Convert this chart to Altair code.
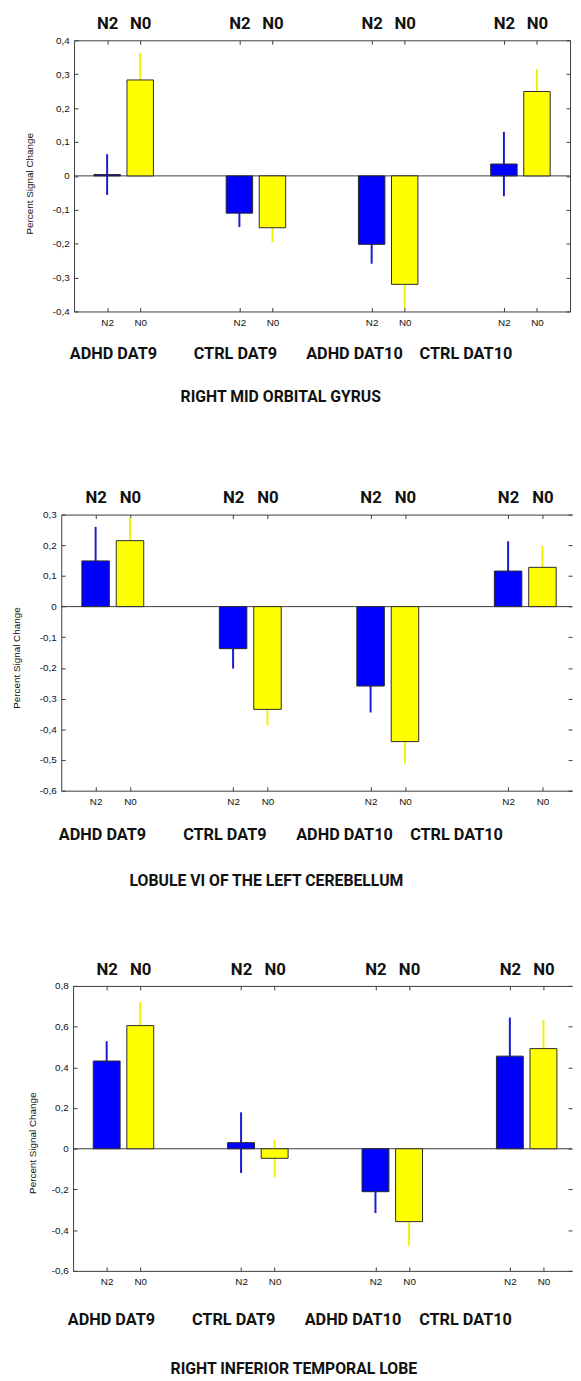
import altair as alt
import pandas as pd

# ---------------- data ----------------
groups = ["ADHD DAT9", "CTRL DAT9", "ADHD DAT10", "CTRL DAT10"]
conditions = ["N2", "N0"]
y_axis_title = "Percent Signal Change"
panel_titles = [
    "RIGHT MID ORBITAL GYRUS",
    "LOBULE VI OF THE LEFT CEREBELLUM",
    "RIGHT INFERIOR TEMPORAL LOBE",
]

# panel 1: right mid orbital gyrus
p1_n2 = [0.004, -0.110, -0.202, 0.035]
p1_n2_err = [0.060, 0.041, 0.057, 0.095]
p1_n0 = [0.283, -0.153, -0.320, 0.249]
p1_n0_err = [0.080, 0.042, 0.070, 0.065]
p1_y_ticks = [-0.4, -0.3, -0.2, -0.1, 0.0, 0.1, 0.2, 0.3, 0.4]

# panel 2: lobule VI of the left cerebellum
p2_n2 = [0.149, -0.137, -0.259, 0.116]
p2_n2_err = [0.111, 0.065, 0.086, 0.097]
p2_n0 = [0.215, -0.335, -0.440, 0.128]
p2_n0_err = [0.075, 0.053, 0.071, 0.070]
p2_y_ticks = [-0.6, -0.5, -0.4, -0.3, -0.2, -0.1, 0.0, 0.1, 0.2, 0.3]

# panel 3: right inferior temporal lobe
p3_n2 = [0.431, 0.030, -0.211, 0.455]
p3_n2_err = [0.097, 0.149, 0.105, 0.190]
p3_n0 = [0.605, -0.047, -0.358, 0.492]
p3_n0_err = [0.116, 0.092, 0.119, 0.140]
p3_y_ticks = [-0.6, -0.4, -0.2, 0.0, 0.2, 0.4, 0.6, 0.8]

# ---------------- layout / style ----------------
group_slots = [1, 5, 9, 13]       # x slot of the N2 bar of each group; N0 is next slot
BAR_HALF = 0.4
BLUE, YELLOW = "#0000ff", "#ffff00"
RULE_BLUE, RULE_YELLOW = "#1a1ad0", "#f2f200"
EDGE = "#2a2a2a"
FRAME = "#3c3c3c"
TEXT = "#111111"
BOLD_FONT = "Roboto"
SMALL_FONT = "Liberation Sans"

layouts = [
    dict(height=275, width=516, x_max=15.0, x_start=13, right_domain=True, top_extent=30,
         ytitle_x=-45, ytitle_y=145, label_x=[1.19, 4.88, 8.48, 11.85], label_dy=43,
         title_x=6.25, title_dy=87, y_domain=[-0.4, 0.4]),
    dict(height=280, width=518, x_max=14.86, x_start=0, right_domain=False, top_extent=47,
         ytitle_x=-45, ytitle_y=145, label_x=[1.2, 4.76, 8.24, 11.5], label_dy=45,
         title_x=5.97, title_dy=92, y_domain=[-0.6, 0.3]),
    dict(height=289, width=518, x_max=14.85, x_start=12, right_domain=False, top_extent=34,
         ytitle_x=-41, ytitle_y=159, label_x=[1.14, 4.78, 8.33, 11.68], label_dy=50,
         title_x=6.57, title_dy=100, y_domain=[-0.6, 0.8]),
]

series = [
    (p1_n2, p1_n2_err, p1_n0, p1_n0_err, p1_y_ticks),
    (p2_n2, p2_n2_err, p2_n0, p2_n0_err, p2_y_ticks),
    (p3_n2, p3_n2_err, p3_n0, p3_n0_err, p3_y_ticks),
]

X_LABEL_EXPR = f"datum.value % 4 == 1 ? '{conditions[0]}' : '{conditions[1]}'"
Y_LABEL_EXPR = "(datum.value < -1e-9 ? '-' : '') + replace(format(abs(datum.value), '.1~f'), '.', ',')"


def make_panel(idx):
    n2, n2e, n0, n0e, y_ticks = series[idx]
    L = layouts[idx]
    rows = []
    for i, g in enumerate(groups):
        rows.append(dict(group=g, cond=conditions[0], pos=group_slots[i], value=n2[i], err=n2e[i]))
        rows.append(dict(group=g, cond=conditions[1], pos=group_slots[i] + 1, value=n0[i], err=n0e[i]))
    df = pd.DataFrame(rows)
    H, W = L["height"], L["width"]
    tick_pos = sorted(df["pos"].tolist())

    xs = alt.Scale(domain=[0, L["x_max"]], range=[L["x_start"], W], nice=False, zero=False)
    ys = alt.Scale(domain=L["y_domain"], nice=False, zero=False)

    common = dict(grid=False, title=None, labelOverlap=False, labelFlush=False)

    frame_df = pd.DataFrame({"x0": [0.0], "x1": [L["x_max"]], "y": [0.0]})

    # zero line + inward ticks on bottom edge and right edge
    zero = alt.Chart(frame_df).mark_rule(color=FRAME, strokeWidth=1).encode(
        x=alt.X("x0:Q", scale=xs, axis=alt.Axis(
            orient="top", offset=-H, values=tick_pos, labels=False, domain=False,
            ticks=True, tickSize=4, tickColor=FRAME, minExtent=0, **common)),
        x2="x1:Q",
        y=alt.Y("y:Q", scale=ys, axis=alt.Axis(
            orient="left", offset=-W, values=y_ticks, labels=False, domain=False,
            ticks=True, tickSize=4, tickColor=FRAME, minExtent=0, **common)),
    )

    # inward ticks on top edge and left edge
    ticks2 = alt.Chart(frame_df).mark_point(opacity=0).encode(
        x=alt.X("x0:Q", scale=xs, axis=alt.Axis(
            orient="bottom", offset=-H, values=tick_pos, labels=False, domain=False,
            ticks=True, tickSize=4, tickColor=FRAME, minExtent=0, **common)),
        y=alt.Y("y:Q", scale=ys, axis=alt.Axis(
            orient="right", offset=-(W - L["x_start"]), values=y_ticks, labels=False,
            domain=False, ticks=True, tickSize=4, tickColor=FRAME, minExtent=0, **common)),
    )

    # error bars (drawn behind the bars)
    rules = alt.Chart(df).transform_calculate(
        lo="datum.value - datum.err", hi="datum.value + datum.err"
    ).mark_rule(strokeWidth=2).encode(
        x=alt.X("pos:Q", scale=xs, axis=alt.Axis(
            orient="top", values=tick_pos, labelExpr=X_LABEL_EXPR, domain=True,
            domainColor=FRAME, domainWidth=1, ticks=False, labelFont=BOLD_FONT,
            labelFontWeight="bold", labelFontSize=17, labelColor=TEXT, labelPadding=8,
            minExtent=L["top_extent"], **common)),
        y=alt.Y("lo:Q", scale=ys, axis=alt.Axis(
            orient="right", domain=L["right_domain"], domainColor=FRAME, domainWidth=1,
            ticks=False, labels=False, minExtent=0, **common)),
        y2="hi:Q",
        stroke=alt.Stroke("cond:N", scale=alt.Scale(domain=conditions,
                          range=[RULE_BLUE, RULE_YELLOW]), legend=None),
    )

    bars = alt.Chart(df).transform_calculate(
        x_lo=f"datum.pos - {BAR_HALF}", x_hi=f"datum.pos + {BAR_HALF}"
    ).mark_bar(stroke=EDGE, strokeWidth=1).encode(
        x=alt.X("x_lo:Q", scale=xs, axis=alt.Axis(
            orient="bottom", values=tick_pos, labelExpr=X_LABEL_EXPR, domain=True,
            domainColor=FRAME, domainWidth=1, ticks=False, labelFont=SMALL_FONT,
            labelFontSize=10, labelColor=TEXT, labelPadding=6, **common)),
        x2="x_hi:Q",
        y=alt.Y("value:Q", scale=ys, axis=alt.Axis(
            orient="left", offset=-L["x_start"], values=y_ticks, labelExpr=Y_LABEL_EXPR,
            domain=True, domainColor=FRAME, domainWidth=1, ticks=False,
            labelFont=SMALL_FONT, labelFontSize=10, labelColor=TEXT, labelPadding=5,
            grid=False, labelOverlap=False, labelFlush=False,
            title=y_axis_title, titleFont=SMALL_FONT, titleFontSize=10,
            titleFontWeight="normal", titleColor=TEXT, titleAngle=270,
            titleX=L["ytitle_x"], titleY=L["ytitle_y"], titleAlign="center",
            titleBaseline="middle")),
        y2=alt.datum(0),
        fill=alt.Fill("cond:N", scale=alt.Scale(domain=conditions, range=[BLUE, YELLOW]),
                      legend=None),
    )

    glabels = alt.Chart(pd.DataFrame({"group": groups, "lx": L["label_x"]})).mark_text(
        font=BOLD_FONT, fontWeight="bold", fontSize=16.5, baseline="middle",
        align="center", color=TEXT
    ).encode(
        x=alt.X("lx:Q", scale=xs, axis=None),
        y=alt.value(H + L["label_dy"]),
        text="group:N",
    )

    ptitle = alt.Chart(pd.DataFrame({"t": [panel_titles[idx]], "tx": [L["title_x"]]})).mark_text(
        font=BOLD_FONT, fontWeight="bold", fontSize=16, baseline="middle",
        align="center", color=TEXT
    ).encode(
        x=alt.X("tx:Q", scale=xs, axis=None),
        y=alt.value(H + L["title_dy"]),
        text="t:N",
    )

    return alt.layer(zero, ticks2, rules, bars, glabels, ptitle).resolve_axis(
        x="independent", y="independent"
    ).properties(width=W, height=H)


chart = alt.vconcat(make_panel(0), make_panel(1), make_panel(2), spacing=64).properties(
    padding={"left": 4, "top": -7, "right": 0, "bottom": 0}
).configure_view(strokeOpacity=0).configure_axis(grid=False)

chart.save("out.html", embed_options={"renderer": "svg", "actions": False})
